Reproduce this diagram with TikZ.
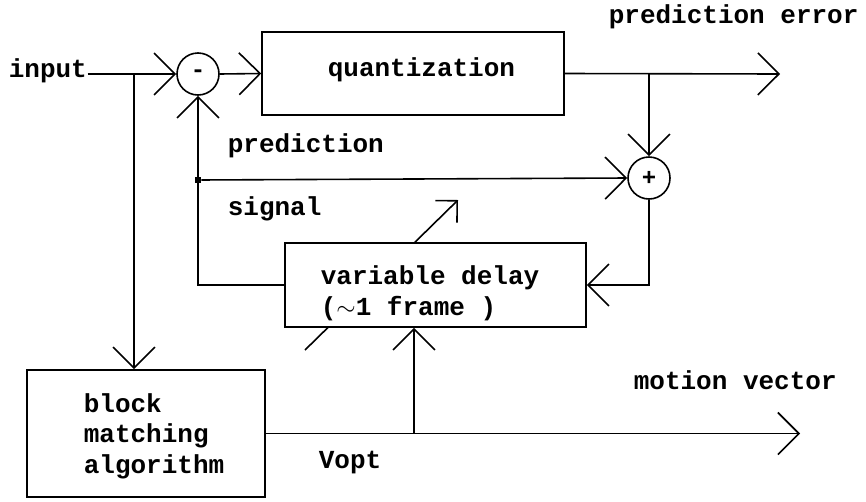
\documentclass[tikz,border=0pt]{standalone}
\usepackage{fontspec}
\setmonofont{Liberation Mono}
\usetikzlibrary{arrows.meta,positioning}

\begin{document}
\begin{tikzpicture}[x=1pt,y=-1pt,line width=1.6pt,
	every node/.style={font=\ttfamily\bfseries\fontsize{26}{30.5}\selectfont},
	box/.style={draw,fill=white,inner sep=0pt},
	sum/.style={draw,circle,minimum size=42pt,inner sep=0pt,font=\ttfamily\bfseries\fontsize{24}{24}\selectfont},
	barb/.style={-{Straight Barb[length=21pt,width=42pt]}},
	smallbarb/.style={-{Straight Barb[length=15.5pt,width=31pt]}},
	lbl/.style={anchor=base west,inner sep=0pt,align=left}]
	\useasboundingbox (0,0) rectangle (866,501);
	
	\coordinate (split) at (134,74);
	\coordinate (errout) at (780,74);
	\coordinate (mvout) at (800,433.5);
	\coordinate (vsplit) at (414,433.5);
	\coordinate (dstart) at (305,350);
	\coordinate (dend) at (458,200);
	
	\draw[smallbarb] (dstart) -- (dend);
	
	\node[box,minimum width=302pt,minimum height=83pt] (quant) at (413,73.5) {};
	\node[box,minimum width=301pt,minimum height=84pt] (delay) at (435.5,285) {};
	\node[box,minimum width=238pt,minimum height=127pt] (bma) at (146,433.5) {};
	\node[sum] (minus) at (198,74) {-};
	\node[sum] (plus) at (649,178) {+};
	\node[draw,fill,inner sep=0pt,minimum size=5pt] (dot) at (198,180) {};
	
	\node[lbl] (qtxt) at (327,76) {quantization};
	\node[lbl] (dtxt) at (320,315) {variable delay\\($\sim$1 frame )};
	\node[lbl] (btxt) at (83,473) {block\\matching\\algorithm};
	
	\node[lbl] (input) at (8,77) {input};
	\node[lbl] (errlbl) at (608,23) {prediction error};
	\node[lbl] (predlbl) at (227,152) {prediction};
	\node[lbl] (siglbl) at (227,215) {signal};
	\node[lbl] (mvlbl) at (633,389) {motion vector};
	\node[lbl] (vopt) at (318,468) {Vopt};
	
	\draw[barb] (input.east |- minus.west) -- (minus.west);
	\draw[barb] (split) -- (split |- bma.north);
	\draw[barb] (minus.east) -- (quant.west);
	\draw[barb] (quant.east) -- (errout);
	\draw[barb] (plus |- quant.east) -- (plus.north);
	\draw[barb] (dot) -- (plus.west);
	\draw[barb] (delay.west) -| (minus.south);
	\draw[barb] (plus.south) |- (delay.east);
	\draw[barb] (bma.east) -- (mvout);
	\draw[barb] (vsplit) -- (vsplit |- delay.south);
\end{tikzpicture}
\end{document}
